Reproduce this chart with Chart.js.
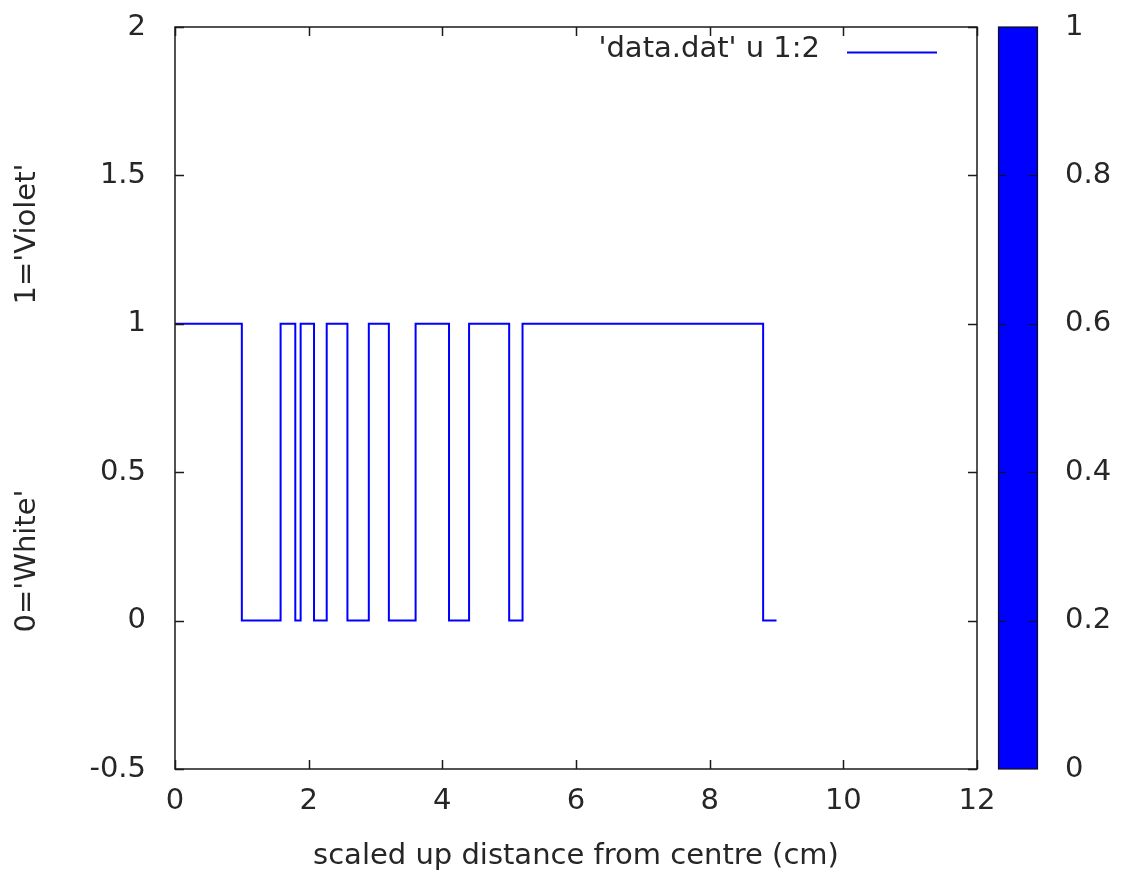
<!DOCTYPE html>
<html>
<head>
<meta charset="utf-8">
<script src="https://cdn.jsdelivr.net/npm/chart.js@4"></script>
<style>
  html, body { margin: 0; padding: 0; background: #fff; }
  #wrap { width: 1121px; height: 874px; position: relative; }
</style>
</head>
<body>
<div id="wrap"><canvas id="plot"></canvas></div>
<script>
// step positions (cm) where the colour state starts, and the state held until the next one
const xEdges = [0, 1.0, 1.58, 1.8, 1.88, 2.08, 2.27, 2.58, 2.9, 3.2, 3.6, 4.1, 4.4, 5.0, 5.2, 8.8, 9.0];
const stateValues = [1, 0, 1, 0, 1, 0, 1, 0, 1, 0, 1, 0, 1, 0, 1, 0, 0];
const seriesLabel = "'data.dat' u 1:2";
const xTitle = 'scaled up distance from centre (cm)';
const stateLabels = ["1='Violet'", "0='White'"];
const xRange = [0, 12, 2];
const yRange = [-0.5, 2, 0.5];
const cbRange = [0, 1, 0.2];

const FONT = 'DejaVu Sans';
const TEXT = '#262626';
const BLUE = '#0000ff';

const fmt = v => String(Number(v.toFixed(3)));

const gnuplotDecor = {
  id: 'gnuplotDecor',
  afterDraw(chart) {
    const ctx = chart.ctx;
    const a = chart.chartArea;
    const xs = chart.scales.x, ys = chart.scales.y, cb = chart.scales.cb;
    ctx.save();

    // frame + inward ticks
    ctx.strokeStyle = '#1a1a1a';
    ctx.lineWidth = 1.5;
    ctx.strokeRect(a.left, a.top, a.right - a.left, a.bottom - a.top);
    const tl = 9;
    ctx.beginPath();
    xs.ticks.forEach(t => {
      const px = Math.round(xs.getPixelForValue(t.value)) + 0.5;
      ctx.moveTo(px, a.bottom); ctx.lineTo(px, a.bottom - tl);
      ctx.moveTo(px, a.top); ctx.lineTo(px, a.top + tl);
    });
    ys.ticks.forEach(t => {
      const py = Math.round(ys.getPixelForValue(t.value)) + 0.5;
      ctx.moveTo(a.left, py); ctx.lineTo(a.left + tl, py);
      ctx.moveTo(a.right, py); ctx.lineTo(a.right - tl, py);
    });
    ctx.stroke();

    // colour box
    const cx0 = 998, cx1 = 1037;
    const cTop = cb.getPixelForValue(cbRange[1]);
    const cBot = cb.getPixelForValue(cbRange[0]);
    ctx.fillStyle = BLUE;
    ctx.fillRect(cx0, cTop, cx1 - cx0, cBot - cTop);
    ctx.lineWidth = 1.2;
    ctx.strokeStyle = '#111';
    ctx.strokeRect(cx0 + 0.5, cTop, cx1 - cx0, cBot - cTop);
    ctx.beginPath();
    cb.ticks.forEach(t => {
      if (t.value <= cbRange[0] || t.value >= cbRange[1]) return;
      const py = Math.round(cb.getPixelForValue(t.value)) + 0.5;
      ctx.moveTo(cx0, py); ctx.lineTo(cx0 + 8, py);
      ctx.moveTo(cx1, py); ctx.lineTo(cx1 - 8, py);
    });
    ctx.stroke();

    // key
    ctx.font = '29px "' + FONT + '"';
    ctx.fillStyle = TEXT;
    ctx.textAlign = 'right';
    ctx.textBaseline = 'middle';
    ctx.fillText(seriesLabel, 820, 49);
    ctx.strokeStyle = BLUE;
    ctx.lineWidth = 2;
    ctx.beginPath();
    ctx.moveTo(847, 52.5); ctx.lineTo(937, 52.5);
    ctx.stroke();

    // rotated state labels
    ctx.textAlign = 'center';
    const spots = [234, 561];
    stateLabels.forEach((s, i) => {
      ctx.save();
      ctx.translate(27, spots[i]);
      ctx.rotate(-Math.PI / 2);
      ctx.fillText(s, 0, 0);
      ctx.restore();
    });
    ctx.restore();
  }
};

// vertical axes: fixed width, and no extra top/bottom room from the tick padding
const fixWidth = w => s => { s.width = w; s.paddingTop = 0; s.paddingBottom = 0; };

new Chart(document.getElementById('plot'), {
  type: 'line',
  data: {
    datasets: [{
      label: seriesLabel,
      data: xEdges.map((x, i) => ({ x: x, y: stateValues[i] })),
      borderColor: BLUE,
      borderWidth: 2,
      pointRadius: 0,
      stepped: 'before',
      fill: false
    }]
  },
  options: {
    responsive: true,
    maintainAspectRatio: false,
    animation: false,
    layout: { padding: { top: 27, right: 0, bottom: 0, left: 0 } },
    plugins: { legend: { display: false }, tooltip: { enabled: false } },
    scales: {
      x: {
        type: 'linear',
        min: xRange[0], max: xRange[1],
        grid: { display: false, drawTicks: false },
        border: { display: false },
        ticks: { stepSize: xRange[2], padding: 15, maxRotation: 0, color: TEXT, font: { family: FONT, size: 29 }, callback: fmt },
        title: { display: true, text: xTitle, color: TEXT, font: { family: FONT, size: 29 }, padding: { top: 0, bottom: 0 } },
        afterFit: s => { s.height = 105; }
      },
      y: {
        min: yRange[0], max: yRange[1],
        grid: { display: false, drawTicks: false },
        border: { display: false },
        ticks: { stepSize: yRange[2], padding: 29, color: TEXT, font: { family: FONT, size: 29 }, callback: fmt },
        afterFit: fixWidth(175)
      },
      cb: {
        position: 'right',
        min: cbRange[0], max: cbRange[1],
        grid: { display: false, drawTicks: false },
        border: { display: false },
        ticks: { stepSize: cbRange[2], padding: 88, color: TEXT, font: { family: FONT, size: 29 }, callback: fmt },
        afterFit: fixWidth(144)
      }
    }
  },
  plugins: [gnuplotDecor]
});
</script>
</body>
</html>
